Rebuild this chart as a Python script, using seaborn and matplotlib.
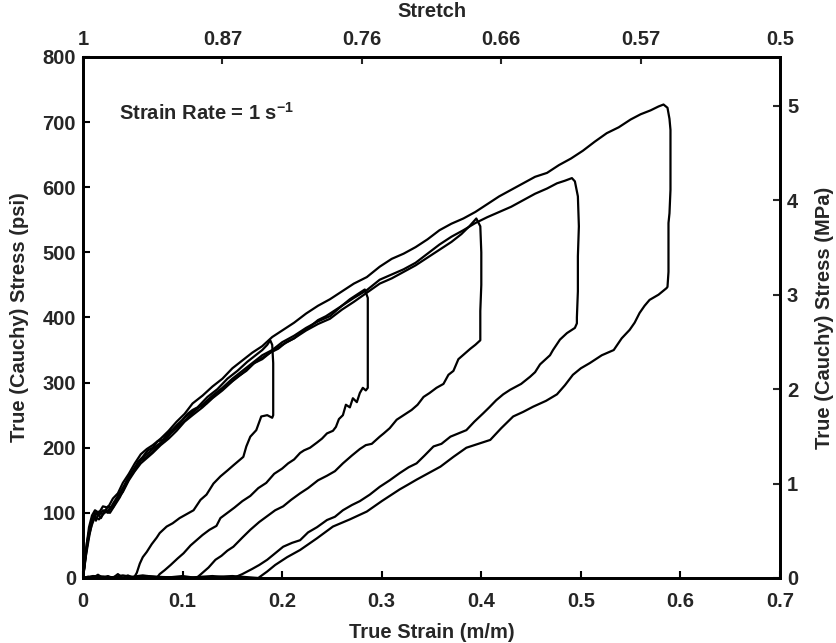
import numpy as np
import pandas as pd
import matplotlib
matplotlib.use("Agg")
import matplotlib.pyplot as plt
import seaborn as sns

# cycle 1 (max strain ~0.19)
c1_load_strain = [0, 0.002, 0.004, 0.006, 0.008, 0.010, 0.013, 0.016, 0.020, 0.025,
                  0.030, 0.035, 0.040, 0.045, 0.050, 0.055, 0.060, 0.065, 0.070, 0.075,
                  0.080, 0.085, 0.090, 0.095, 0.100, 0.105, 0.110, 0.115, 0.120, 0.125,
                  0.130, 0.135, 0.140, 0.145, 0.150, 0.155, 0.160, 0.165, 0.170, 0.175,
                  0.180, 0.185, 0.188]
c1_load_stress = [0, 25, 48, 70, 84, 96, 88, 102, 98, 110,
                  108, 122, 138, 150, 162, 178, 186, 196, 200, 210,
                  212, 222, 228, 236, 243, 252, 258, 262, 270, 278,
                  284, 290, 298, 306, 312, 318, 325, 332, 338, 344,
                  350, 358, 365]
c1_unload_strain = [0.190, 0.191, 0.191, 0.191, 0.191, 0.190, 0.185, 0.179, 0.174, 0.168,
                    0.164, 0.161, 0.151, 0.145, 0.138, 0.131, 0.124, 0.118, 0.111, 0.104,
                    0.097, 0.090, 0.084, 0.077, 0.074, 0.069, 0.064, 0.060, 0.057, 0.054,
                    0.051, 0.045, 0.040, 0.035, 0.030, 0.025, 0.020, 0.015, 0.010, 0.005,
                    0.0]
c1_unload_stress = [358, 330, 300, 270, 250, 246, 250, 248, 227, 217,
                    202, 186, 173, 165, 156, 145, 128, 120, 104, 98,
                    92, 84, 79, 69, 62, 52, 40, 32, 22, 8,
                    0, 4, 0, 6, 0, 3, 0, 5, 0, 2,
                    0]

# cycle 2 (max strain ~0.285)
c2_load_strain = [0, 0.002, 0.004, 0.007, 0.010, 0.014, 0.018, 0.022, 0.027, 0.032,
                  0.037, 0.042, 0.047, 0.052, 0.058, 0.064, 0.070, 0.076, 0.082, 0.088,
                  0.094, 0.100, 0.108, 0.116, 0.124, 0.132, 0.140, 0.148, 0.156, 0.164,
                  0.172, 0.180, 0.188, 0.196, 0.204, 0.212, 0.220, 0.228, 0.236, 0.244,
                  0.252, 0.260, 0.268, 0.276, 0.283]
c2_load_stress = [0, 30, 55, 78, 90, 100, 92, 104, 100, 112,
                  124, 140, 155, 165, 180, 186, 194, 204, 210, 222,
                  230, 238, 250, 262, 268, 280, 290, 300, 310, 318,
                  330, 336, 346, 352, 362, 368, 378, 386, 396, 402,
                  410, 418, 428, 436, 443]
c2_unload_strain = [0.286, 0.286, 0.286, 0.286, 0.286, 0.284, 0.281, 0.278, 0.275, 0.271,
                    0.268, 0.264, 0.261, 0.257, 0.254, 0.251, 0.245, 0.240, 0.235, 0.228,
                    0.222, 0.218, 0.212, 0.206, 0.200, 0.192, 0.184, 0.176, 0.168, 0.160,
                    0.152, 0.145, 0.138, 0.134, 0.127, 0.120, 0.114, 0.108, 0.101, 0.095,
                    0.088, 0.082, 0.077, 0.074, 0.065, 0.055, 0.040, 0.025, 0.010, 0.0]
c2_unload_stress = [430, 400, 360, 320, 292, 288, 292, 284, 270, 276,
                    262, 266, 250, 244, 232, 226, 222, 214, 208, 200,
                    196, 192, 182, 176, 168, 160, 146, 138, 126, 118,
                    108, 100, 92, 80, 74, 66, 58, 50, 38, 30,
                    20, 12, 6, 0, 3, 0, 4, 0, 2, 0]

# cycle 3 (max strain ~0.40)
c3_load_strain = [0, 0.003, 0.006, 0.009, 0.012, 0.016, 0.020, 0.025, 0.030, 0.035,
                  0.040, 0.046, 0.052, 0.058, 0.064, 0.070, 0.078, 0.086, 0.094, 0.102,
                  0.110, 0.120, 0.130, 0.140, 0.150, 0.160, 0.170, 0.180, 0.190, 0.200,
                  0.212, 0.224, 0.236, 0.248, 0.260, 0.272, 0.285, 0.298, 0.310, 0.322,
                  0.334, 0.346, 0.358, 0.370, 0.380, 0.388, 0.395]
c3_load_stress = [0, 40, 66, 82, 94, 90, 98, 104, 110, 122,
                  132, 150, 164, 176, 184, 192, 204, 214, 226, 240,
                  250, 262, 276, 288, 302, 314, 328, 338, 348, 358,
                  368, 380, 390, 398, 412, 424, 438, 452, 460, 470,
                  480, 492, 504, 516, 528, 540, 552]
c3_unload_strain = [0.399, 0.400, 0.400, 0.399, 0.399, 0.399, 0.394, 0.389, 0.383, 0.377,
                    0.372, 0.367, 0.362, 0.355, 0.348, 0.342, 0.336, 0.330, 0.322, 0.315,
                    0.308, 0.302, 0.298, 0.290, 0.284, 0.278, 0.270, 0.261, 0.253, 0.245,
                    0.236, 0.226, 0.218, 0.209, 0.201, 0.193, 0.185, 0.177, 0.168, 0.160,
                    0.151, 0.145, 0.139, 0.133, 0.126, 0.120, 0.114, 0.100, 0.080, 0.060,
                    0.040, 0.020, 0.0]
c3_unload_stress = [540, 500, 450, 410, 375, 365, 358, 352, 344, 336,
                    318, 312, 298, 292, 284, 278, 266, 258, 250, 243,
                    230, 222, 217, 206, 204, 198, 188, 176, 164, 157,
                    150, 138, 130, 120, 110, 104, 95, 86, 74, 62,
                    48, 42, 34, 28, 16, 8, 0, 3, 0, 4,
                    0, 2, 0]

# cycle 4 (max strain ~0.50)
c4_load_strain = [0, 0.003, 0.006, 0.009, 0.012, 0.016, 0.020, 0.025, 0.030, 0.035,
                  0.040, 0.046, 0.052, 0.058, 0.064, 0.070, 0.078, 0.086, 0.094, 0.102,
                  0.110, 0.120, 0.130, 0.140, 0.150, 0.160, 0.170, 0.180, 0.190, 0.200,
                  0.212, 0.224, 0.236, 0.248, 0.260, 0.272, 0.285, 0.298, 0.310, 0.322,
                  0.334, 0.346, 0.358, 0.370, 0.382, 0.394, 0.406, 0.418, 0.430, 0.442,
                  0.454, 0.466, 0.476, 0.484, 0.491]
c4_load_stress = [0, 35, 62, 86, 100, 96, 104, 100, 114, 126,
                  138, 156, 170, 182, 190, 198, 208, 220, 232, 246,
                  256, 266, 280, 292, 306, 318, 330, 342, 350, 362,
                  372, 384, 394, 402, 418, 430, 442, 458, 466, 474,
                  484, 498, 512, 524, 534, 545, 554, 562, 570, 580,
                  590, 598, 606, 610, 614]
c4_unload_strain = [0.494, 0.497, 0.498, 0.497, 0.497, 0.496, 0.496, 0.494, 0.486, 0.479,
                    0.472, 0.469, 0.464, 0.459, 0.454, 0.449, 0.440, 0.429, 0.422, 0.415,
                    0.408, 0.402, 0.393, 0.385, 0.377, 0.369, 0.360, 0.352, 0.343, 0.335,
                    0.327, 0.318, 0.308, 0.298, 0.288, 0.278, 0.270, 0.261, 0.253, 0.245,
                    0.235, 0.226, 0.218, 0.210, 0.201, 0.193, 0.185, 0.177, 0.170, 0.160,
                    0.151, 0.130, 0.100, 0.070, 0.040, 0.010, 0.0]
c4_unload_stress = [609, 586, 540, 494, 440, 400, 391, 384, 376, 366,
                    350, 342, 335, 328, 316, 309, 298, 289, 282, 273,
                    262, 253, 240, 227, 222, 217, 206, 202, 188, 176,
                    170, 161, 150, 140, 128, 118, 112, 104, 94, 89,
                    78, 70, 58, 54, 48, 38, 28, 20, 14, 6,
                    0, 3, 0, 2, 0, 3, 0]

# cycle 5 (max strain ~0.59)
c5_load_strain = [0, 0.002, 0.004, 0.006, 0.009, 0.012, 0.016, 0.020, 0.025, 0.030,
                  0.035, 0.040, 0.046, 0.052, 0.058, 0.064, 0.070, 0.078, 0.086, 0.094,
                  0.102, 0.110, 0.120, 0.130, 0.140, 0.150, 0.160, 0.170, 0.180, 0.190,
                  0.200, 0.212, 0.224, 0.236, 0.248, 0.260, 0.272, 0.285, 0.298, 0.310,
                  0.322, 0.334, 0.346, 0.358, 0.370, 0.382, 0.394, 0.406, 0.418, 0.430,
                  0.442, 0.454, 0.466, 0.478, 0.490, 0.502, 0.514, 0.526, 0.538, 0.550,
                  0.560, 0.570, 0.578, 0.583]
c5_load_stress = [0, 30, 55, 78, 96, 104, 100, 110, 108, 122,
                  130, 146, 160, 176, 190, 198, 204, 214, 226, 240,
                  252, 268, 280, 294, 306, 322, 334, 346, 356, 370,
                  380, 392, 406, 418, 428, 440, 452, 462, 478, 490,
                  498, 508, 520, 534, 544, 552, 562, 574, 586, 596,
                  606, 616, 622, 634, 644, 656, 670, 683, 692, 704,
                  712, 718, 724, 727]
c5_unload_strain = [0.587, 0.589, 0.590, 0.590, 0.590, 0.589, 0.588, 0.588, 0.588, 0.587,
                    0.586, 0.578, 0.569, 0.564, 0.559, 0.554, 0.549, 0.541, 0.533, 0.521,
                    0.509, 0.500, 0.492, 0.484, 0.476, 0.465, 0.452, 0.442, 0.432, 0.420,
                    0.409, 0.397, 0.385, 0.372, 0.359, 0.347, 0.335, 0.326, 0.318, 0.300,
                    0.285, 0.268, 0.251, 0.235, 0.218, 0.205, 0.193, 0.185, 0.176, 0.150,
                    0.110, 0.070, 0.030, 0.0]
c5_unload_stress = [722, 705, 688, 640, 596, 560, 545, 500, 470, 447,
                    445, 435, 427, 418, 407, 392, 381, 368, 350, 342,
                    330, 322, 312, 296, 282, 272, 263, 255, 248, 230,
                    212, 206, 200, 186, 171, 161, 151, 143, 136, 118,
                    102, 90, 79, 61, 43, 32, 20, 10, 0, 3,
                    0, 2, 0, 0]

strain_ticks = [0, 0.1, 0.2, 0.3, 0.4, 0.5, 0.6, 0.7]
strain_tick_labels = ["0", "0.1", "0.2", "0.3", "0.4", "0.5", "0.6", "0.7"]
psi_ticks = [0, 100, 200, 300, 400, 500, 600, 700, 800]
mpa_ticks = [0, 1, 2, 3, 4, 5]
stretch_tick_strain = [0, 0.14, 0.28, 0.42, 0.56, 0.70]
stretch_tick_labels = ["1", "0.87", "0.76", "0.66", "0.57", "0.5"]

PSI_TO_MPA = 0.00689476

cycles = {
    1: (c1_load_strain + c1_unload_strain, c1_load_stress + c1_unload_stress),
    2: (c2_load_strain + c2_unload_strain, c2_load_stress + c2_unload_stress),
    3: (c3_load_strain + c3_unload_strain, c3_load_stress + c3_unload_stress),
    4: (c4_load_strain + c4_unload_strain, c4_load_stress + c4_unload_stress),
    5: (c5_load_strain + c5_unload_strain, c5_load_stress + c5_unload_stress),
}
frames = []
for k, (xs, ys) in cycles.items():
    frames.append(pd.DataFrame({"strain": xs, "stress": ys, "cycle": k}))
df = pd.concat(frames, ignore_index=True)

sns.set_theme(style="ticks")
plt.rcParams.update({
    "font.family": ["Liberation Sans", "DejaVu Sans"],
    "font.weight": "bold",
    "axes.labelweight": "bold",
    "mathtext.fontset": "custom",
    "mathtext.rm": "Liberation Sans:bold",
    "mathtext.it": "Liberation Sans:bold",
    "mathtext.bf": "Liberation Sans:bold",
    "mathtext.default": "rm",
})

FS = 14.5
fig = plt.figure(figsize=(8.37, 6.43), dpi=100)
ax = fig.add_axes([0.0992, 0.1011, 0.8327, 0.8103])

sns.lineplot(data=df, x="strain", y="stress", units="cycle", estimator=None,
             sort=False, color="black", linewidth=1.6, ax=ax)

ax.set_xlim(0, 0.7)
ax.set_ylim(0, 800)
ax.set_xticks(strain_ticks)
ax.set_xticklabels(strain_tick_labels)
ax.set_yticks(psi_ticks)
ax.tick_params(direction="in", length=5, width=1.5, labelsize=FS, color="black")
ax.tick_params(axis="x", pad=10)
ax.tick_params(axis="y", pad=5)
ax.set_xlabel("True Strain (m/m)", fontsize=FS, fontweight="bold", labelpad=9)
ax.set_ylabel("True (Cauchy) Stress (psi)", fontsize=FS, fontweight="bold", labelpad=10)

ax2 = ax.twinx()
ax2.set_ylim(0, 800 * PSI_TO_MPA)
ax2.set_yticks(mpa_ticks)
ax2.tick_params(direction="in", length=5, width=1.5, labelsize=FS, pad=5)
ax2.set_ylabel("True (Cauchy) Stress (MPa)", fontsize=FS, fontweight="bold", labelpad=12)

ax3 = ax.twiny()
ax3.set_xlim(0, 0.7)
ax3.set_xticks(stretch_tick_strain)
ax3.set_xticklabels(stretch_tick_labels)
ax3.tick_params(direction="in", length=5, width=1.5, labelsize=FS, pad=6)
ax3.set_xlabel("Stretch", fontsize=FS, fontweight="bold", labelpad=9)

for a in (ax, ax2, ax3):
    for s in a.spines.values():
        s.set_linewidth(1.8)
        s.set_color("black")

ax.text(0.036, 714, "Strain Rate = 1 s$^{-1}$", fontsize=FS, fontweight="bold",
        va="center", ha="left")

fig.savefig("out.png", dpi=100)
